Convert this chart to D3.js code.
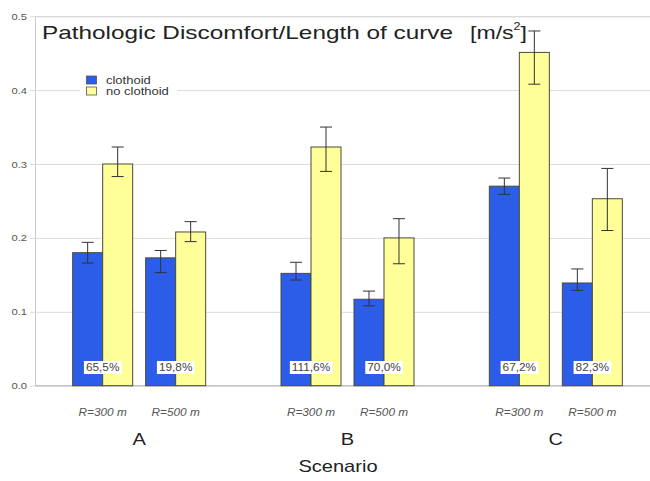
<!DOCTYPE html>
<html>
<head>
<meta charset="utf-8">
<script src="https://cdn.jsdelivr.net/npm/d3@7"></script>
<style>
  html, body { margin: 0; padding: 0; background: #fff; }
  svg { display: block; font-family: "Liberation Sans", Arial, sans-serif; }
</style>
</head>
<body>
<svg id="chart" width="650" height="481"></svg>
<script>
// Scenarios and curve radii
const scenarios = ["A", "B", "C"];
const radii = ["R=300 m", "R=500 m"];
const seriesNames = ["clothoid", "no clothoid"];

// Mean pathologic discomfort per length of curve [m/s²], per scenario × radius
const clothoid   = [[0.180, 0.173], [0.152, 0.117], [0.270, 0.139]];
const noClothoid = [[0.300, 0.208], [0.323, 0.200], [0.451, 0.253]];

// Error bar bounds (low, high)
const clothoidLow    = [[0.166, 0.153], [0.143, 0.108], [0.259, 0.129]];
const clothoidHigh   = [[0.194, 0.183], [0.167, 0.128], [0.281, 0.158]];
const noClothoidLow  = [[0.283, 0.195], [0.290, 0.165], [0.408, 0.210]];
const noClothoidHigh = [[0.323, 0.222], [0.350, 0.226], [0.480, 0.294]];

// Relative increase labels
const increaseLabels = [["65,5%", "19,8%"], ["111,6%", "70,0%"], ["67,2%", "82,3%"]];

const yTicks = [0.0, 0.1, 0.2, 0.3, 0.4, 0.5];
const colors = ["#2c5de8", "#ffff99"];

const svg = d3.select("#chart");
const plotLeft = 35, plotRight = 660, plotTop = 16.2, plotBottom = 385.7;

// Text in this chart is set slightly wide; stretch glyphs horizontally
const WIDE = 1.18;
function widen(sel, factor = WIDE) {
  sel.each(function () {
    const w = this.getComputedTextLength();
    d3.select(this).attr("textLength", w * factor).attr("lengthAdjust", "spacingAndGlyphs");
  });
  return sel;
}

const y = d3.scaleLinear().domain([0, 0.5]).range([plotBottom, plotTop]);
const xGroup = d3.scaleBand().domain(scenarios).range([plotLeft, plotRight]);
const xRadius = d3.scaleBand().domain(radii).range([0, xGroup.bandwidth()])
  .paddingInner(0.178).paddingOuter(0.516);
const xSeries = d3.scaleBand().domain(seriesNames).range([0, xRadius.bandwidth()]);

// Gridlines and y axis
const yAxis = d3.axisLeft(y).tickValues(yTicks).tickFormat(d3.format(".1f"))
  .tickSize(-(650 - plotLeft)).tickPadding(8);
const gy = svg.append("g").attr("transform", `translate(${plotLeft},0)`).call(yAxis);
gy.select(".domain").attr("stroke", "#c8c8c8");
gy.selectAll(".tick line").attr("stroke", "#dcdcdc").attr("x1", -5);
gy.selectAll(".tick text").attr("fill", "#555").attr("font-size", 9.5)
  .attr("font-family", "Liberation Sans, Arial, sans-serif");
widen(gy.selectAll(".tick text"));

// Baseline
svg.append("line").attr("x1", plotLeft).attr("x2", 650).attr("y1", y(0)).attr("y2", y(0))
  .attr("stroke", "#bdbdbd");

// Flatten into rows
const rows = [];
scenarios.forEach((s, i) => radii.forEach((r, j) => {
  rows.push({ s, r, series: seriesNames[0], v: clothoid[i][j], lo: clothoidLow[i][j], hi: clothoidHigh[i][j] });
  rows.push({ s, r, series: seriesNames[1], v: noClothoid[i][j], lo: noClothoidLow[i][j], hi: noClothoidHigh[i][j] });
}));
const xPos = d => xGroup(d.s) + xRadius(d.r) + xSeries(d.series);

// Bars
svg.append("g").selectAll("rect").data(rows).join("rect")
  .attr("x", xPos)
  .attr("y", d => y(d.v))
  .attr("width", xSeries.bandwidth())
  .attr("height", d => y(0) - y(d.v))
  .attr("fill", d => colors[seriesNames.indexOf(d.series)])
  .attr("stroke", "#4a4a3a").attr("stroke-width", 1);

// Error bars
const eb = svg.append("g").attr("stroke", "#333").attr("stroke-width", 1);
rows.forEach(d => {
  const cx = xPos(d) + xSeries.bandwidth() / 2;
  eb.append("line").attr("x1", cx).attr("x2", cx).attr("y1", y(d.lo)).attr("y2", y(d.hi));
  [d.lo, d.hi].forEach(v => eb.append("line")
    .attr("x1", cx - 6).attr("x2", cx + 6).attr("y1", y(v)).attr("y2", y(v)));
});

// Increase labels and radius labels
scenarios.forEach((s, i) => radii.forEach((r, j) => {
  const cx = xGroup(s) + xRadius(r) + xRadius.bandwidth() / 2;
  const g = svg.append("g");
  const t = g.append("text").attr("x", cx).attr("y", 367.5).attr("dy", "0.35em")
    .attr("text-anchor", "middle").attr("font-size", 10).attr("fill", "#444")
    .text(increaseLabels[i][j]);
  widen(t);
  const bb = t.node().getBBox();
  g.insert("rect", "text").attr("x", bb.x - 2).attr("y", bb.y - 1)
    .attr("width", bb.width + 4).attr("height", bb.height + 2).attr("fill", "#fff");
  widen(svg.append("text").attr("x", cx).attr("y", 412).attr("dy", "0.35em")
    .attr("text-anchor", "middle").attr("font-size", 10).attr("font-style", "italic")
    .attr("fill", "#555").text(r));
}));

// Scenario labels
scenarios.forEach(s => {
  widen(svg.append("text").attr("x", xGroup(s) + xGroup.bandwidth() / 2).attr("y", 439)
    .attr("dy", "0.35em").attr("text-anchor", "middle").attr("font-size", 17)
    .attr("fill", "#222").text(s));
});
widen(svg.append("text").attr("x", 338).attr("y", 466.5).attr("dy", "0.35em")
  .attr("text-anchor", "middle").attr("font-size", 17).attr("fill", "#222").text("Scenario"));

// Title
svg.append("text").attr("x", 42).attr("y", 39).attr("font-size", 18.5).attr("fill", "#222")
  .attr("textLength", 411).attr("lengthAdjust", "spacingAndGlyphs")
  .text("Pathologic Discomfort/Length of curve");
const unit = svg.append("text").attr("x", 470).attr("y", 39).attr("font-size", 18.5).attr("fill", "#222");
unit.append("tspan").text("[m/s");
unit.append("tspan").attr("font-size", 10).attr("dy", -9).text("2");
unit.append("tspan").attr("dy", 9).text("]");
unit.attr("textLength", 57).attr("lengthAdjust", "spacingAndGlyphs");

// Legend
const lg = svg.append("g");
lg.append("rect").attr("x", 80).attr("y", 70).attr("width", 97).attr("height", 30).attr("fill", "#fff");
seriesNames.forEach((n, i) => {
  lg.append("rect").attr("x", 86.5).attr("y", 76 + i * 11).attr("width", 10).attr("height", 8)
    .attr("fill", colors[i]).attr("stroke", "#555").attr("stroke-width", 0.8);
  widen(lg.append("text").attr("x", 106).attr("y", 80 + i * 11).attr("dy", "0.35em")
    .attr("font-size", 11).attr("fill", "#333").text(n));
});
</script>
</body>
</html>
